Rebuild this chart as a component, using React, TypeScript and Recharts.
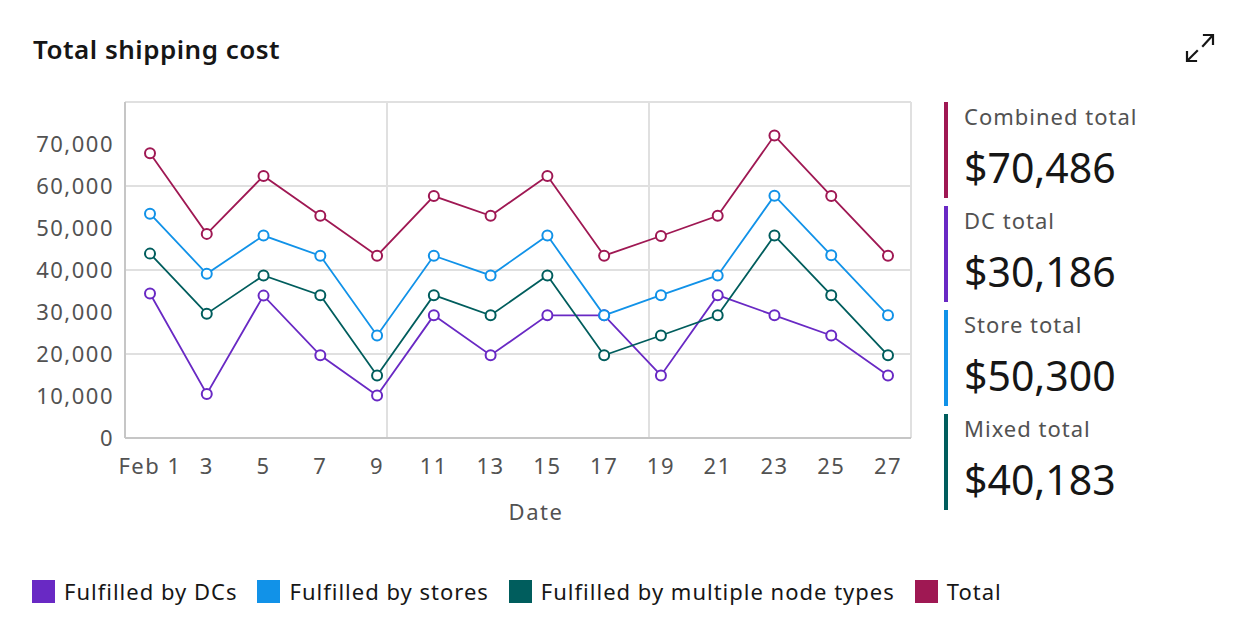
import React from 'react';
import { LineChart, Line, XAxis, YAxis, CartesianGrid } from 'recharts';

const days = [1, 3, 5, 7, 9, 11, 13, 15, 17, 19, 21, 23, 25, 27];
const dcs = [34400, 10500, 33900, 19700, 10100, 29200, 19700, 29200, 29200, 14900, 34000, 29200, 24400, 14900];
const stores = [53400, 39100, 48200, 43400, 24400, 43400, 38700, 48200, 29200, 34000, 38700, 57700, 43500, 29200];
const mixed = [43900, 29600, 38700, 34000, 14900, 34000, 29200, 38700, 19700, 24400, 29200, 48200, 34000, 19700];
const total = [67800, 48600, 62400, 52900, 43400, 57600, 52900, 62400, 43400, 48100, 52900, 72000, 57600, 43400];

const yTicks = [0, 10000, 20000, 30000, 40000, 50000, 60000, 70000];
const gridValues = [20000, 40000, 60000, 80000];

const seriesNames = ['Fulfilled by DCs', 'Fulfilled by stores', 'Fulfilled by multiple node types', 'Total'];
const seriesKeys = ['dcs', 'stores', 'mixed', 'total'];
const seriesColors = ['#6929c4', '#1192e8', '#005d5d', '#9f1853'];

const kpiLabels = ['Combined total', 'DC total', 'Store total', 'Mixed total'];
const kpiValues = ['$70,486', '$30,186', '$50,300', '$40,183'];
const kpiColors = ['#9f1853', '#6929c4', '#1192e8', '#005d5d'];

const data = days.map((d, i) => ({ day: d, dcs: dcs[i], stores: stores[i], mixed: mixed[i], total: total[i] }));

const FONT = '"Noto Sans", "DejaVu Sans", sans-serif';

function ExpandIcon() {
  return (
    <svg width={40} height={40} viewBox="0 0 40 40" style={{ position: 'absolute', left: 1180, top: 28 }}>
      <g stroke="#161616" strokeWidth={2.2} fill="none" strokeLinecap="square">
        <line x1={23} y1={18} x2={32} y2={8} />
        <polyline points="24,7 33,7 33,16" />
        <line x1={8} y1={32} x2={17} y2={23} />
        <polyline points="7,24 7,33 16,33" />
      </g>
    </svg>
  );
}

export default function App() {
  return (
    <div style={{ position: 'absolute', left: 0, top: 0, width: 1248, height: 640, background: '#fff', fontFamily: FONT, overflow: 'hidden' }}>
      <div style={{ position: 'absolute', left: 33, top: 33, fontSize: 26, fontWeight: 600, color: '#161616', lineHeight: '32px', letterSpacing: 0.5 }}>
        Total shipping cost
      </div>
      <ExpandIcon />
      <div style={{ position: 'absolute', left: 0, top: 0 }}>
        <LineChart width={930} height={540} data={data} margin={{ top: 102, right: 19, bottom: 12, left: 0 }}>
          <CartesianGrid
            stroke="#e0e0e0"
            strokeWidth={2}
            horizontalValues={gridValues}
            verticalCoordinatesGenerator={(p: any) => {
              const o = p.offset;
              return [o.left + o.width / 3, o.left + (2 * o.width) / 3, o.left + o.width];
            }}
          />
          <XAxis
            dataKey="day"
            type="number"
            domain={[1, 27]}
            ticks={days}
            padding={{ left: 25, right: 23 }}
            tickFormatter={(d: number) => (d === 1 ? 'Feb 1' : String(d))}
            tickLine={false}
            axisLine={{ stroke: '#c6c6c6', strokeWidth: 2 }}
            tick={{ fill: '#525252', fontSize: 22, fontFamily: FONT, letterSpacing: 1.5 }}
            tickMargin={14}
            height={90}
            interval={0}
            label={{ value: 'Date', position: 'insideBottom', offset: 8, dx: 18, fill: '#525252', fontSize: 22, fontFamily: FONT, letterSpacing: 1.5 }}
          />
          <YAxis
            type="number"
            domain={[0, 80000]}
            ticks={yTicks}
            width={125}
            tickLine={false}
            axisLine={{ stroke: '#c6c6c6', strokeWidth: 2 }}
            tick={{ fill: '#525252', fontSize: 22, fontFamily: FONT, letterSpacing: 1.5 }}
            tickMargin={5}
            tickFormatter={(v: number) => v.toLocaleString('en-US')}
            interval={0}
          />
          {seriesKeys.map((k, i) => (
            <Line
              key={k}
              dataKey={k}
              name={seriesNames[i]}
              stroke={seriesColors[i]}
              strokeWidth={1.8}
              dot={{ r: 5, fill: '#fff', stroke: seriesColors[i], strokeWidth: 2 }}
              isAnimationActive={false}
            />
          ))}
        </LineChart>
      </div>
      {kpiLabels.map((lab, i) => (
        <div key={lab} style={{ position: 'absolute', left: 944, top: 102 + i * 104, height: 96, width: 300 }}>
          <div style={{ position: 'absolute', left: 0, top: 0, width: 4, height: 96, background: kpiColors[i] }} />
          <div style={{ position: 'absolute', left: 20, top: -1, fontSize: 22, color: '#525252', lineHeight: '30px', letterSpacing: 1, whiteSpace: 'nowrap' }}>{lab}</div>
          <div style={{ position: 'absolute', left: 20, top: 40, fontSize: 41, color: '#161616', lineHeight: '50px', whiteSpace: 'nowrap' }}>{kpiValues[i]}</div>
        </div>
      ))}
      <div style={{ position: 'absolute', left: 32, top: 577, display: 'flex', alignItems: 'center', height: 28, whiteSpace: 'nowrap' }}>
        {seriesNames.map((n, i) => (
          <div key={n} style={{ display: 'flex', alignItems: 'center', marginRight: 20 }}>
            <div style={{ width: 23, height: 23, background: seriesColors[i], marginRight: 9 }} />
            <span style={{ fontSize: 22, color: '#161616', letterSpacing: 1.0 }}>{n}</span>
          </div>
        ))}
      </div>
    </div>
  );
}
